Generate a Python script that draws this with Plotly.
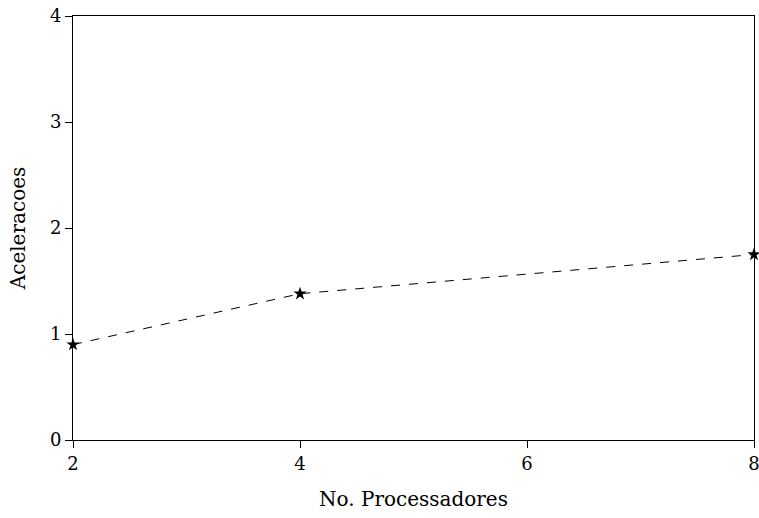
import plotly.graph_objects as go

processadores = [2, 4, 8]
aceleracoes = [0.9, 1.38, 1.75]
x_ticks = [2, 4, 6, 8]
y_ticks = [0, 1, 2, 3, 4]

font = dict(family="DejaVu Serif, Liberation Serif, serif", size=18, color="black")
title_font = dict(family="DejaVu Serif, Liberation Serif, serif", size=20, color="black")

fig = go.Figure()
fig.add_trace(go.Scatter(
    x=processadores, y=aceleracoes, mode="lines+markers",
    line=dict(color="black", width=1, dash="dash"),
    marker=dict(symbol="star", size=10, color="black"),
    cliponaxis=False, showlegend=False,
))
axis_common = dict(
    showline=True, linecolor="black", linewidth=1, mirror=True,
    ticks="outside", ticklen=7, tickwidth=1, tickcolor="black",
    showgrid=False, zeroline=False, tickfont=font, automargin=False,
    ticklabeloverflow="allow",
)
fig.update_xaxes(range=[2, 8], tickvals=x_ticks, ticktext=[str(v) for v in x_ticks],
                 title=dict(text="No. Processadores", font=title_font, standoff=19), **axis_common)
fig.update_yaxes(range=[0, 4], tickvals=y_ticks, ticktext=[str(v) for v in y_ticks],
                 title=dict(text="Aceleracoes", font=title_font, standoff=18), **axis_common)
fig.update_layout(
    width=759, height=518,
    margin=dict(l=73, r=5, t=16, b=78),
    paper_bgcolor="white", plot_bgcolor="white",
    font=font,
)
fig.write_html("out.html", config={"displayModeBar": False},
               post_script="document.body.style.margin='0';")
